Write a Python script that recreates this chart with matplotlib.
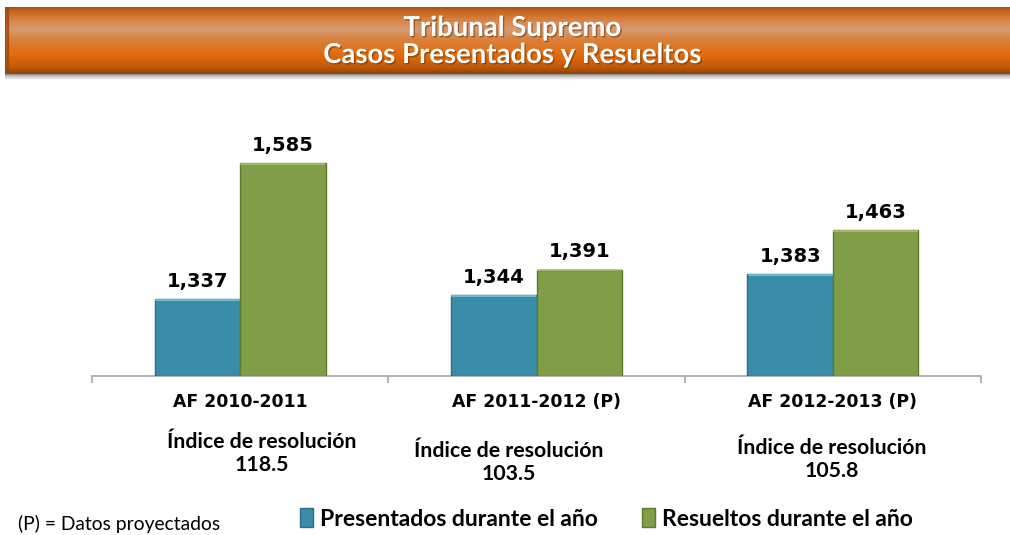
import numpy as np
import matplotlib
matplotlib.use("Agg")
import matplotlib.pyplot as plt
from matplotlib import patheffects as pe
from matplotlib.colors import LinearSegmentedColormap

# ---------------- data ----------------
title_lines = ["Tribunal Supremo", "Casos Presentados y Resueltos"]
categories = ["AF 2010-2011", "AF 2011-2012 (P)", "AF 2012-2013 (P)"]
presentados = [1337, 1344, 1383]
resueltos = [1585, 1391, 1463]
series_names = ["Presentados durante el año", "Resueltos durante el año"]
indice_label = "Índice de resolución"
indices = ["118.5", "103.5", "105.8"]
note = "(P) = Datos proyectados"

# ---------------- figure ----------------
W, H = 1010, 535
fig = plt.figure(figsize=(W / 100, H / 100), dpi=100)
fig.patch.set_facecolor("white")

def fx(px):
    return px / W

def fy(py):
    return 1 - py / H

# ---- title banner ----
bx0, bx1, by0, by1 = 5, 1010, 7, 74
ban = fig.add_axes([fx(bx0), fy(by1), fx(bx1 - bx0), (by1 - by0) / H])
ban.set_axis_off()
stops = [(0.0, "#A9520F"), (0.06, "#C96421"), (0.18, "#D98040"),
         (0.33, "#D69C72"), (0.5, "#DB7F3A"), (0.72, "#E26B0C"),
         (0.9, "#C05A08"), (1.0, "#8E430C")]
cmap = LinearSegmentedColormap.from_list("ban", stops)
grad = np.linspace(0, 1, 200).reshape(-1, 1)
ban.imshow(grad, aspect="auto", cmap=cmap, extent=[0, 1, 0, 1], origin="upper")
ban.set_xlim(0, 1)
ban.set_ylim(0, 1)
ban.axvspan(0, 0.003, color="#9A480C", alpha=0.7)

# shadow below banner
sh = fig.add_axes([fx(bx0), fy(80), fx(bx1 - bx0), 6 / H])
sh.set_axis_off()
shc = LinearSegmentedColormap.from_list("sh", [(0, "#8A8A8A"), (0.4, "#C8C8C8"), (1, "#FFFFFF")])
sh.imshow(np.linspace(0, 1, 50).reshape(-1, 1), aspect="auto", cmap=shc,
          extent=[0, 1, 0, 1], origin="upper")

shadow = [pe.withSimplePatchShadow(offset=(1.0, -1.0), shadow_rgbFace="#5A2A00", alpha=0.5)]
for txt, py in zip(title_lines, [28, 55]):
    fig.text(fx(512), fy(py), txt, ha="center", va="center", color="white",
             fontsize=19.8, fontweight="bold", family="Lato", path_effects=shadow)

# ---------------- main axes ----------------
ax_left, ax_right, ax_base, ax_top = 92, 981, 376, 100
ax = fig.add_axes([fx(ax_left), fy(ax_base), fx(ax_right - ax_left), (ax_base - ax_top) / H])
ymin = 1197
ymax = ymin + (ax_base - ax_top) / 0.5484
ax.set_ylim(ymin, ymax)
ax.set_xlim(-0.5, len(categories) - 0.5)

x = np.arange(len(categories))
bw = 0.288
blue, blue_edge = "#3A8DA8", "#2B6F86"
green, green_edge = "#809E48", "#5F7A30"

b1 = ax.bar(x - bw / 2, np.array(presentados) - ymin, bw, bottom=ymin,
            color=blue, edgecolor=blue_edge, linewidth=1.0, label=series_names[0], zorder=3)
b2 = ax.bar(x + bw / 2, np.array(resueltos) - ymin, bw, bottom=ymin,
            color=green, edgecolor=green_edge, linewidth=1.0, label=series_names[1], zorder=3)

for bars, hl in [(b1, "#7FC3DA"), (b2, "#A9C474")]:
    for r in bars:
        ax.plot([r.get_x() + 0.004, r.get_x() + r.get_width() - 0.004],
                [r.get_y() + r.get_height() - 1.5] * 2, color=hl, lw=1.2, zorder=4)

for bars, vals in [(b1, presentados), (b2, resueltos)]:
    for r, v in zip(bars, vals):
        ax.annotate(f"{v:,}", (r.get_x() + r.get_width() / 2, v),
                    xytext=(0, 6), textcoords="offset points", ha="center", va="bottom",
                    fontsize=14, fontweight="bold", family="DejaVu Sans", color="black")

for s in ["top", "right", "left"]:
    ax.spines[s].set_visible(False)
ax.spines["bottom"].set_color("#A6A6A6")
ax.spines["bottom"].set_linewidth(1.2)
ax.set_yticks([])
ax.set_xticks(x)
ax.set_xticklabels(categories, fontsize=12.4, fontweight="bold", family="DejaVu Sans")
ax.tick_params(axis="x", which="major", length=0, pad=12)
ax.set_xticks(np.arange(-0.5, len(categories), 1.0), minor=True)
ax.tick_params(axis="x", which="minor", length=5, color="#A6A6A6", width=1.2)
ax.patch.set_alpha(0)

# index texts
idx_pos = [(262, 442), (509, 451), (832, 448)]
for (px, py), val in zip(idx_pos, indices):
    fig.text(fx(px), fy(py), indice_label, ha="center", va="center",
             fontsize=15.3, fontweight="bold", family="Lato")
    fig.text(fx(px), fy(py + 23), val, ha="center", va="center",
             fontsize=15.3, fontweight="bold", family="Lato")

# note
fig.text(fx(18), fy(524), note, ha="left", va="center", fontsize=13.9, family="Lato")

# legend
leg = fig.legend(handles=[b1, b2], labels=series_names, ncol=2, loc="center left",
                 bbox_to_anchor=(fx(279), fy(519)), frameon=False,
                 handlelength=0.6, handleheight=0.9, handletextpad=0.3,
                 columnspacing=1.9, prop={"family": "Lato", "weight": "bold", "size": 16.5})

fig.savefig("out.png", dpi=100, facecolor="white")
